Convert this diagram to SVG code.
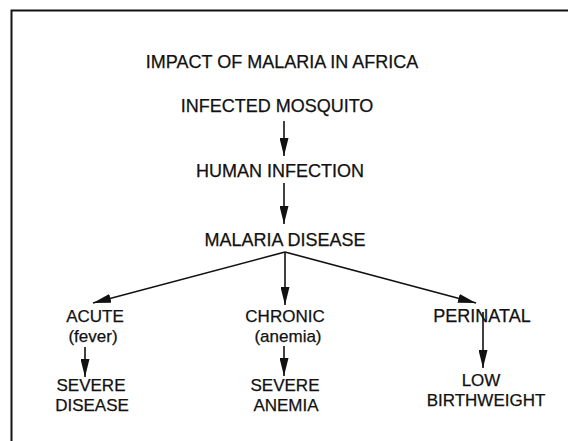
<svg xmlns="http://www.w3.org/2000/svg" width="568" height="441" viewBox="0 0 568 441">
<style>
  text { font-family: "Liberation Sans", Arial, sans-serif; font-size: 18px; fill: #111; stroke: #111; stroke-width: 0.25; text-anchor: middle; }
  .two text { font-size: 17px; }
  .conn line { stroke: #111; stroke-width: 1.6; fill: none; }
  .frame { stroke: #111; stroke-width: 2; fill: none; }
</style>
<defs>
  <marker id="ah" viewBox="0 0 18 9" refX="18" refY="4.5" markerWidth="18" markerHeight="9" markerUnits="userSpaceOnUse" orient="auto">
    <path d="M0,0 L18,4.5 L0,9 z" fill="#111"/>
  </marker>
</defs>
<rect x="0" y="0" width="568" height="441" fill="#fff"/>
<path class="frame" d="M568,10.5 L11.5,10.5 L11.5,441"/>

<g id="title"><text x="282" y="68">IMPACT OF MALARIA IN AFRICA</text></g>
<g id="infected-mosquito"><text x="277" y="112">INFECTED MOSQUITO</text></g>
<g id="human-infection"><text x="280" y="177">HUMAN INFECTION</text></g>
<g id="malaria-disease"><text x="285" y="246">MALARIA DISEASE</text></g>
<g id="acute" class="two"><text x="95" y="322">ACUTE</text><text x="93" y="341.5">(fever)</text></g>
<g id="chronic" class="two"><text x="285" y="322">CHRONIC</text><text x="288" y="341.5">(anemia)</text></g>
<g id="perinatal"><text x="482" y="322">PERINATAL</text></g>
<g id="severe-disease" class="two"><text x="91" y="391">SEVERE</text><text x="92" y="410.5">DISEASE</text></g>
<g id="severe-anemia" class="two"><text x="285" y="391">SEVERE</text><text x="286" y="410.5">ANEMIA</text></g>
<g id="low-birthweight" class="two"><text x="481" y="386">LOW</text><text x="486" y="405.5">BIRTHWEIGHT</text></g>

<g id="connectors" class="conn">
  <line x1="284" y1="121" x2="284" y2="156" marker-end="url(#ah)"/>
  <line x1="284" y1="183" x2="284" y2="224" marker-end="url(#ah)"/>
  <line x1="285" y1="252" x2="93" y2="303" marker-end="url(#ah)"/>
  <line x1="285" y1="252" x2="285" y2="305" marker-end="url(#ah)"/>
  <line x1="285" y1="252" x2="476" y2="303" marker-end="url(#ah)"/>
  <line x1="85" y1="347" x2="85" y2="377" marker-end="url(#ah)"/>
  <line x1="284" y1="346" x2="284" y2="376" marker-end="url(#ah)"/>
  <line x1="483" y1="312" x2="483" y2="368" marker-end="url(#ah)"/>
</g>
</svg>
